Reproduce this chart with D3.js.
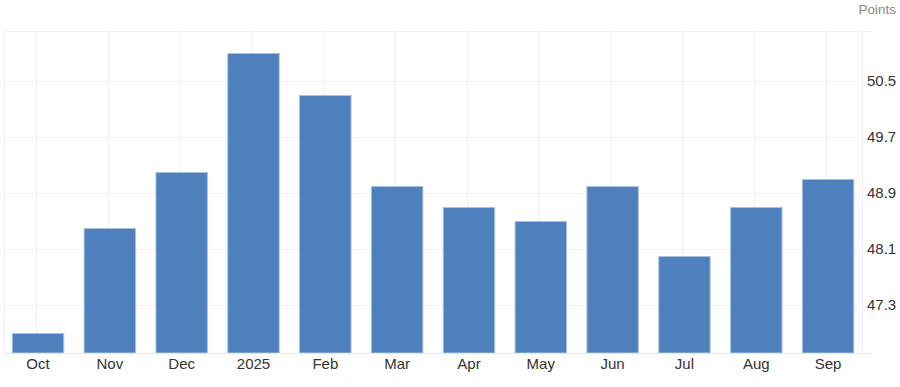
<!DOCTYPE html>
<html>
<head>
<meta charset="utf-8">
<script src="https://cdn.jsdelivr.net/npm/d3@7"></script>
<style>
  body { margin: 0; background: #fff; }
  svg { display: block; font-family: "Liberation Sans", Arial, sans-serif; }
</style>
</head>
<body>
<div id="chart"></div>
<script>
var months = ["Oct", "Nov", "Dec", "2025", "Feb", "Mar", "Apr", "May", "Jun", "Jul", "Aug", "Sep"];
var values = [46.9, 48.4, 49.2, 50.9, 50.3, 49.0, 48.7, 48.5, 49.0, 48.0, 48.7, 49.1];
var yTicks = [47.3, 48.1, 48.9, 49.7, 50.5];

var width = 900, height = 387,
    plot = { left: 4, right: 862, top: 31, bottom: 353 };

var svg = d3.select("#chart")
    .append("svg")
    .attr("width", width)
    .attr("height", height);

var x = d3.scaleBand()
    .domain(months)
    .range([2.1, 864])
    .paddingInner(0.27)
    .paddingOuter(0.135);

var y = d3.scaleLinear()
    .domain([46.614, 51.214])
    .range([plot.bottom, plot.top]);

// vertical grid at each month
svg.append("g")
    .selectAll("line")
    .data(months)
    .join("line")
    .attr("x1", function(d) { return x(d) + x.bandwidth() / 2 - 1.5; })
    .attr("x2", function(d) { return x(d) + x.bandwidth() / 2 - 1.5; })
    .attr("y1", plot.top)
    .attr("y2", plot.bottom)
    .attr("stroke", "#efefef")
    .attr("stroke-width", 1);

// dotted horizontal grid
svg.append("g")
    .selectAll("line")
    .data(yTicks)
    .join("line")
    .attr("x1", plot.left)
    .attr("x2", plot.right - 4)
    .attr("y1", function(d) { return Math.round(y(d)) + 0.5; })
    .attr("y2", function(d) { return Math.round(y(d)) + 0.5; })
    .attr("stroke", "#e6e6e6")
    .attr("stroke-dasharray", "1,1");

// top dotted border
svg.append("line")
    .attr("x1", plot.left).attr("x2", 872)
    .attr("y1", plot.top + 0.5).attr("y2", plot.top + 0.5)
    .attr("stroke", "#e6e6e6")
    .attr("stroke-dasharray", "1,1");

// left and right frame
svg.append("line")
    .attr("x1", plot.left + 0.5).attr("x2", plot.left + 0.5)
    .attr("y1", plot.top).attr("y2", plot.bottom)
    .attr("stroke", "#eeeeee");
svg.append("line")
    .attr("x1", plot.right + 0.5).attr("x2", plot.right + 0.5)
    .attr("y1", plot.top).attr("y2", plot.bottom)
    .attr("stroke", "#eeeeee");

// bars
svg.append("g")
    .selectAll("rect")
    .data(values)
    .join("rect")
    .attr("x", function(d, i) { return x(months[i]) + 0.5; })
    .attr("width", x.bandwidth() - 1)
    .attr("y", function(d) { return y(d) + 0.5; })
    .attr("height", function(d) { return plot.bottom - y(d) - 0.5; })
    .attr("fill", "#4d80bc")
    .attr("stroke", "#a9c1e0")
    .attr("stroke-width", 1);

// bottom axis line
svg.append("line")
    .attr("x1", plot.left).attr("x2", 872)
    .attr("y1", plot.bottom + 0.5).attr("y2", plot.bottom + 0.5)
    .attr("stroke", "#e8e8e8");

// x labels
var xAxis = svg.append("g")
    .attr("transform", "translate(0," + plot.bottom + ")")
    .call(d3.axisBottom(x).tickSize(0).tickPadding(5));
xAxis.select(".domain").remove();
xAxis.selectAll("text")
    .attr("font-size", 15)
    .attr("font-family", "Liberation Sans, Arial, sans-serif")
    .attr("fill", "#333");

// y labels on the right
var yAxis = svg.append("g")
    .attr("transform", "translate(" + 867 + ",0)")
    .call(d3.axisRight(y).tickValues(yTicks).tickSize(0).tickPadding(0)
        .tickFormat(d3.format(".1f")));
yAxis.select(".domain").remove();
yAxis.selectAll("text")
    .attr("font-size", 15)
    .attr("font-family", "Liberation Sans, Arial, sans-serif")
    .attr("fill", "#333");

svg.append("text")
    .attr("x", 896)
    .attr("y", 14)
    .attr("text-anchor", "end")
    .attr("font-size", 13.5)
    .attr("fill", "#888")
    .text("Points");
</script>
</body>
</html>
